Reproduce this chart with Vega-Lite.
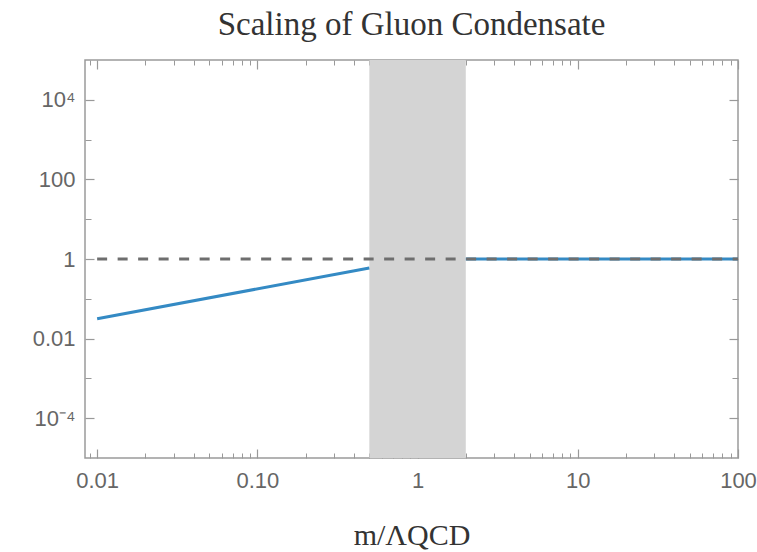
{
  "$schema": "https://vega.github.io/schema/vega-lite/v6.json",
  "width": 653,
  "height": 398,
  "autosize": "none",
  "padding": {"left": 85, "top": 60, "right": 19, "bottom": 94},
  "background": "white",
  "config": {
    "view": {"stroke": "#9a9a9a", "strokeWidth": 1.5},
    "axis": {"grid": false, "domain": false, "zindex": 1}
  },
  "title": {
    "text": "Scaling of Gluon Condensate",
    "font": "Liberation Serif",
    "fontSize": 33,
    "fontWeight": "normal",
    "color": "#333333",
    "baseline": "alphabetic",
    "offset": -9,
    "anchor": "middle"
  },
  "datasets": {
    "band": [{"lo": 0.5, "hi": 2}],
    "curve": [
      {"x": 0.01, "y": 0.0316, "seg": "a"},
      {"x": 0.5, "y": 0.595, "seg": "a"},
      {"x": 2, "y": 1, "seg": "b"},
      {"x": 100, "y": 1, "seg": "b"}
    ],
    "ref": [
      {"x": 0.01, "y": 1},
      {"x": 100, "y": 1}
    ]
  },
  "resolve": {"axis": {"x": "independent", "y": "independent"}},
  "layer": [
    {
      "data": {"name": "band"},
      "mark": {"type": "rect", "color": "#d4d4d4"},
      "encoding": {
        "x": {
          "field": "lo", "type": "quantitative",
          "scale": {"type": "log", "domain": [0.0084, 100], "nice": false},
          "axis": {
            "orient": "bottom",
            "values": [0.01, 0.1, 1, 10, 100],
            "ticks": false,
            "labelPadding": 12,
            "labelFlush": false,
            "labelOverlap": false,
            "labelExpr": "datum.value == 0.1 ? '0.10' : format(datum.value, '~g')",
            "labelFont": "Liberation Sans",
            "labelFontSize": 22,
            "labelColor": "#666666",
            "title": "m/ΛQCD",
            "titleFont": "Liberation Serif",
            "titleFontSize": 30,
            "titleFontWeight": "normal",
            "titleColor": "#333333",
            "titleBaseline": "alphabetic",
            "titleY": 86
          }
        },
        "x2": {"field": "hi"}
      }
    },
    {
      "data": {"name": "curve"},
      "mark": {"type": "line", "color": "#348ac4", "strokeWidth": 3},
      "encoding": {
        "x": {
          "field": "x", "type": "quantitative",
          "axis": {
            "orient": "bottom",
            "values": [0.01, 0.1, 1, 10, 100],
            "labels": false,
            "tickSize": -9,
            "tickColor": "#999999",
            "tickWidth": 1.2,
            "title": null
          }
        },
        "y": {
          "field": "y", "type": "quantitative",
          "scale": {"type": "log", "domain": [0.00001, 100000], "nice": false},
          "axis": {
            "orient": "left",
            "values": [0.0001, 0.01, 1, 100, 10000],
            "ticks": false,
            "labelPadding": 10,
            "labelOverlap": false,
            "labelFlush": false,
            "labelExpr": "datum.value > 1000 ? '10⁴' : datum.value < 0.001 ? '10⁻⁴' : format(datum.value, '~g')",
            "labelFont": "Liberation Sans",
            "labelFontSize": 22,
            "labelColor": "#666666",
            "title": null
          }
        },
        "detail": {"field": "seg"}
      }
    },
    {
      "data": {"name": "ref"},
      "mark": {"type": "line", "color": "#6e6e6e", "strokeWidth": 3.2, "strokeDash": [10, 10.5]},
      "encoding": {
        "x": {
          "field": "x", "type": "quantitative",
          "axis": {
            "orient": "bottom",
            "values": [0.009, 0.02, 0.03, 0.04, 0.05, 0.06, 0.07, 0.08, 0.09, 0.2, 0.3, 0.4, 0.5, 0.6, 0.7, 0.8, 0.9, 2, 3, 4, 5, 6, 7, 8, 9, 20, 30, 40, 50, 60, 70, 80, 90],
            "labels": false,
            "tickSize": -5,
            "tickColor": "#999999",
            "tickWidth": 1,
            "title": null
          }
        },
        "y": {
          "field": "y", "type": "quantitative",
          "axis": {
            "orient": "left",
            "values": [0.0001, 0.01, 1, 100, 10000],
            "labels": false,
            "tickSize": -9,
            "tickColor": "#999999",
            "tickWidth": 1.2,
            "title": null
          }
        }
      }
    },
    {
      "data": {"name": "ref"},
      "mark": {"type": "point", "opacity": 0},
      "encoding": {
        "x": {
          "field": "x", "type": "quantitative",
          "axis": {
            "orient": "top",
            "values": [0.01, 0.1, 1, 10, 100],
            "labels": false,
            "tickSize": -9,
            "tickColor": "#999999",
            "tickWidth": 1.2,
            "title": null
          }
        },
        "y": {
          "field": "y", "type": "quantitative",
          "axis": {
            "orient": "left",
            "values": [0.001, 0.1, 10, 1000],
            "labels": false,
            "tickSize": -6,
            "tickColor": "#999999",
            "tickWidth": 1,
            "title": null
          }
        }
      }
    },
    {
      "data": {"name": "ref"},
      "mark": {"type": "point", "opacity": 0},
      "encoding": {
        "x": {
          "field": "x", "type": "quantitative",
          "axis": {
            "orient": "top",
            "values": [0.009, 0.02, 0.03, 0.04, 0.05, 0.06, 0.07, 0.08, 0.09, 0.2, 0.3, 0.4, 0.5, 0.6, 0.7, 0.8, 0.9, 2, 3, 4, 5, 6, 7, 8, 9, 20, 30, 40, 50, 60, 70, 80, 90],
            "labels": false,
            "tickSize": -5,
            "tickColor": "#999999",
            "tickWidth": 1,
            "title": null
          }
        },
        "y": {
          "field": "y", "type": "quantitative",
          "axis": {
            "orient": "right",
            "values": [0.0001, 0.01, 1, 100, 10000],
            "labels": false,
            "tickSize": -9,
            "tickColor": "#999999",
            "tickWidth": 1.2,
            "title": null
          }
        }
      }
    },
    {
      "data": {"name": "ref"},
      "mark": {"type": "point", "opacity": 0},
      "encoding": {
        "x": {"field": "x", "type": "quantitative", "axis": null},
        "y": {
          "field": "y", "type": "quantitative",
          "axis": {
            "orient": "right",
            "values": [0.001, 0.1, 10, 1000],
            "labels": false,
            "tickSize": -6,
            "tickColor": "#999999",
            "tickWidth": 1,
            "title": null
          }
        }
      }
    }
  ]
}
